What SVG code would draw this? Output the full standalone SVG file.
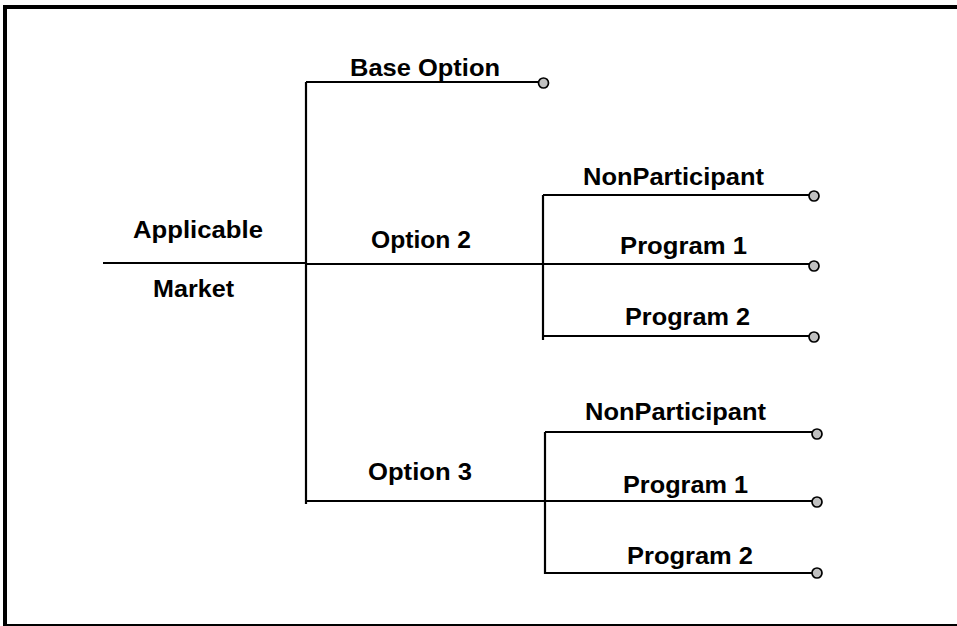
<svg xmlns="http://www.w3.org/2000/svg" width="957" height="626" viewBox="0 0 957 626">
  <style>
    .frame { fill: #ffffff; stroke: #000000; stroke-width: 4; }
    .wire { fill: none; stroke: #000000; stroke-width: 2.2; stroke-linecap: butt; }
    .end { fill: #c0c0c0; stroke: #000000; stroke-width: 1.7; }
    .lbl { font-family: "Liberation Sans", Arial, sans-serif; font-weight: bold; font-size: 24.5px; fill: #000000; }
  </style>

  <!-- outer frame -->
  <rect class="frame" x="5" y="7" width="1000" height="619"/>

  <!-- connectors of the tree -->
  <g id="connectors">
    <path class="wire" d="M103 263 H306"/>
    <path class="wire" d="M306 82 V504"/>
    <path class="wire" d="M306 82 H538"/>
    <path class="wire" d="M306 264 H809"/>
    <path class="wire" d="M306 501 H812"/>
    <!-- Option 2 branches -->
    <path class="wire" d="M543 195 V340"/>
    <path class="wire" d="M543 195 H809"/>
    <path class="wire" d="M543 336 H809"/>
    <!-- Option 3 branches -->
    <path class="wire" d="M545 432 V574"/>
    <path class="wire" d="M545 432 H812"/>
    <path class="wire" d="M545 573 H812"/>
  </g>

  <g id="applicable-market">
    <text class="lbl" x="133" y="237.5" textLength="130" lengthAdjust="spacingAndGlyphs">Applicable</text>
    <text class="lbl" x="153" y="296.5" textLength="81" lengthAdjust="spacingAndGlyphs">Market</text>
  </g>

  <g id="base-option">
    <text class="lbl" x="350" y="76" textLength="150" lengthAdjust="spacingAndGlyphs">Base Option</text>
    <circle class="end" cx="543.5" cy="83" r="5"/>
  </g>

  <g id="option-2">
    <text class="lbl" x="371" y="248" textLength="100" lengthAdjust="spacingAndGlyphs">Option 2</text>
  </g>

  <g id="opt2-nonparticipant">
    <text class="lbl" x="583" y="185" textLength="181" lengthAdjust="spacingAndGlyphs">NonParticipant</text>
    <circle class="end" cx="814" cy="196" r="5"/>
  </g>
  <g id="opt2-program1">
    <text class="lbl" x="620" y="254" textLength="127" lengthAdjust="spacingAndGlyphs">Program 1</text>
    <circle class="end" cx="814" cy="266" r="5"/>
  </g>
  <g id="opt2-program2">
    <text class="lbl" x="625" y="325" textLength="125" lengthAdjust="spacingAndGlyphs">Program 2</text>
    <circle class="end" cx="814" cy="337" r="5"/>
  </g>

  <g id="option-3">
    <text class="lbl" x="368" y="480" textLength="104" lengthAdjust="spacingAndGlyphs">Option 3</text>
  </g>

  <g id="opt3-nonparticipant">
    <text class="lbl" x="585" y="420" textLength="181" lengthAdjust="spacingAndGlyphs">NonParticipant</text>
    <circle class="end" cx="817" cy="434" r="5"/>
  </g>
  <g id="opt3-program1">
    <text class="lbl" x="623" y="493" textLength="125" lengthAdjust="spacingAndGlyphs">Program 1</text>
    <circle class="end" cx="817" cy="502" r="5"/>
  </g>
  <g id="opt3-program2">
    <text class="lbl" x="627" y="564" textLength="126" lengthAdjust="spacingAndGlyphs">Program 2</text>
    <circle class="end" cx="817" cy="573" r="5"/>
  </g>
</svg>
